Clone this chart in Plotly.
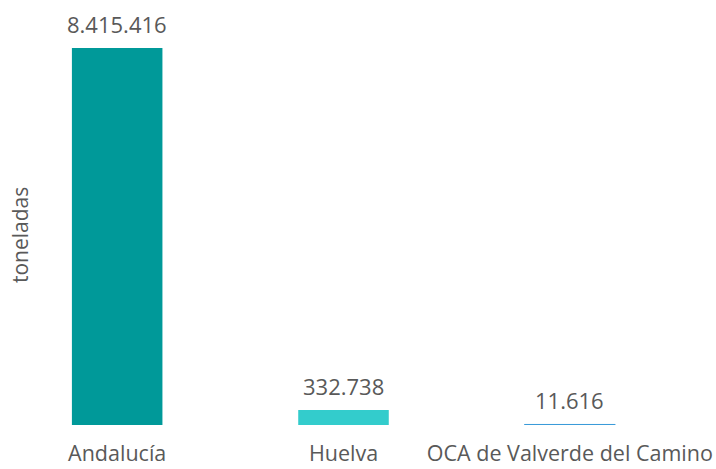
import plotly.graph_objects as go

categories = ["Andalucía", "Huelva", "OCA de Valverde del Camino"]
values = [8415416, 332738, 11616]
labels = ["8.415.416", "332.738", "11.616"]
colors = ["#009999", "#33CCCC", "#3A9AD9"]

L, R, T, B, W, H = 4, 33, 30, 44, 716, 469

fig = go.Figure(go.Bar(
    x=categories, y=values,
    marker=dict(color=colors, line=dict(color=colors, width=[0, 0, 1])),
    width=0.4, cliponaxis=False, hoverinfo="skip",
))

for c, v, t in zip(categories, values, labels):
    fig.add_annotation(x=c, y=v, text=t, showarrow=False, yanchor="bottom",
                       yshift=7, font=dict(family="Open Sans", size=22, color="#595959"))

fig.add_annotation(text="toneladas", textangle=-90,
                   x=(20 - L) / (W - L - R), y=(H - B - 235) / (H - B - T),
                   xref="paper", yref="paper", showarrow=False,
                   xanchor="center", yanchor="middle",
                   font=dict(family="Open Sans", size=21, color="#595959"))

fig.update_layout(
    width=W, height=H,
    margin=dict(l=L, r=R, t=T, b=B, autoexpand=False),
    paper_bgcolor="white", plot_bgcolor="white",
    showlegend=False,
    font=dict(family="Open Sans", color="#595959"),
    xaxis=dict(showline=False, showgrid=False, zeroline=False, automargin=False,
               range=[-0.5, 2.5],
               tickfont=dict(family="Open Sans", size=21.5, color="#595959"),
               ticks="outside", ticklen=9, tickcolor="rgba(0,0,0,0)"),
    yaxis=dict(range=[0, 8.82e6], visible=False, automargin=False),
)

fig.write_html("out.html", config={"displayModeBar": False},
               post_script="document.body.style.margin='0';")
